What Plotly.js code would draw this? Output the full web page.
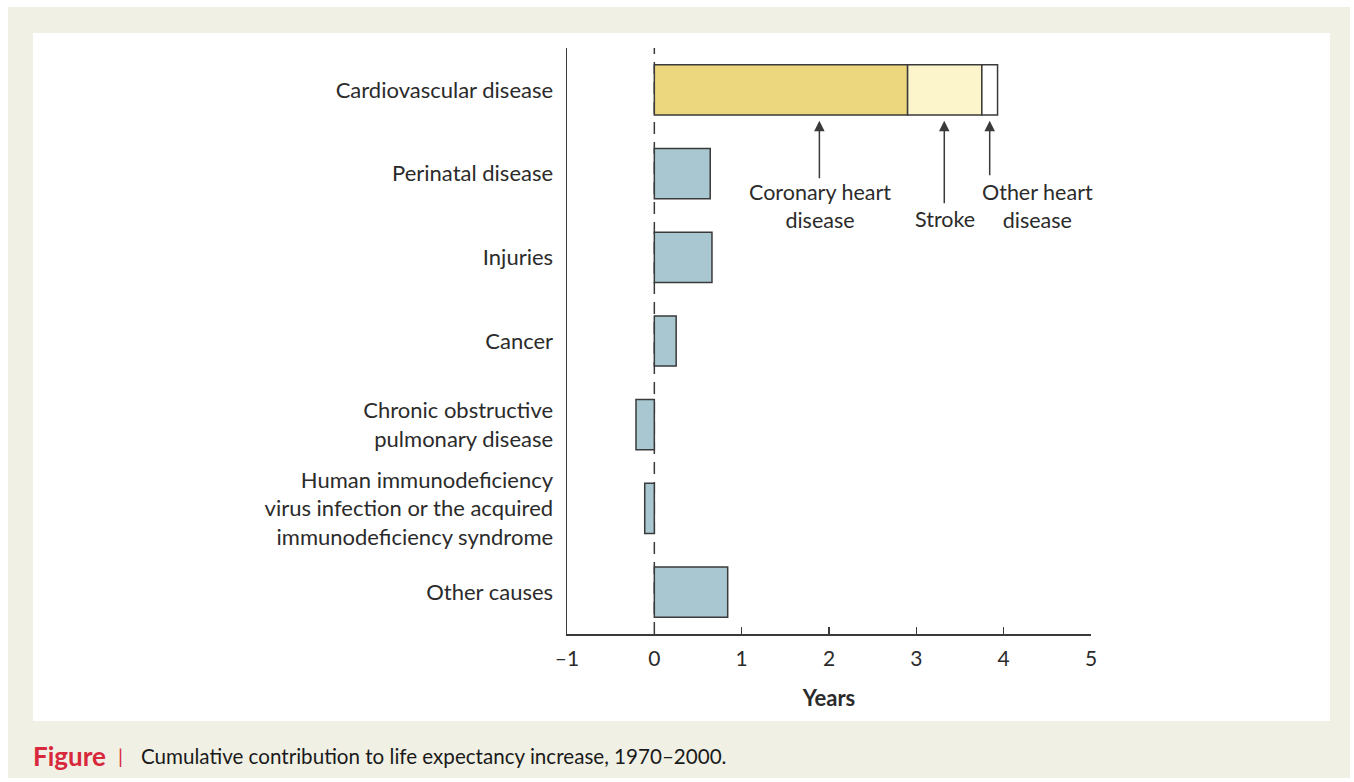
<!DOCTYPE html>
<html><head><meta charset="utf-8">
<script src="https://cdn.plot.ly/plotly-3.0.1.min.js"></script>
<style>html,body{margin:0;padding:0;background:#fff;}#chart{width:1354px;height:782px;}</style>
</head><body><div id="chart"></div>
<script>
// ---- data ----
const categories = [
  "Cardiovascular disease",
  "Perinatal disease",
  "Injuries",
  "Cancer",
  "Chronic obstructive<br>pulmonary disease",
  "Human immunodeficiency<br>virus infection or the acquired<br>immunodeficiency syndrome",
  "Other causes"
];
const cardioCategory = ["Cardiovascular disease"];
const coronary = [2.90];
const stroke = [0.85];
const otherHeart = [0.18];
const otherCategories = categories.slice(1);
const otherValues = [0.64, 0.66, 0.25, -0.21, -0.11, 0.84];
const tickVals = [-1, 0, 1, 2, 3, 4, 5];
const tickText = ["\u20131", "0", "1", "2", "3", "4", "5"];
const xTitle = "Years";
const caption = "Cumulative contribution to life expectancy increase, 1970\u20132000.";

// ---- layout helpers ----
const L = 567, R = 1091, T = 48, B = 634, W = 1354, H = 782;
const px = p => (p - L) / (R - L);
const py = q => (B - q) / (B - T);
const FONT = "Lato, 'Open Sans', sans-serif";
const TXT = "#2b2b2b";
const EDGE = "#3a3a3a";

const barLine = {color: EDGE, width: 1.5};
const traces = [
  {type: "bar", orientation: "h", y: cardioCategory, x: coronary, width: 0.6,
   marker: {color: "#ecd67e", line: barLine}, name: "Coronary heart disease"},
  {type: "bar", orientation: "h", y: cardioCategory, x: stroke, width: 0.6,
   marker: {color: "#fcf5cc", line: barLine}, name: "Stroke"},
  {type: "bar", orientation: "h", y: cardioCategory, x: otherHeart, width: 0.6,
   marker: {color: "#ffffff", line: barLine}, name: "Other heart disease"},
  {type: "bar", orientation: "h", y: otherCategories, x: otherValues, width: 0.6,
   marker: {color: "#a9c7d1", line: barLine}, name: "Other"}
];

const arrowCommon = {xref: "x", yref: "y", text: "", showarrow: true, arrowhead: 2,
  arrowsize: 1.4, arrowwidth: 1.5, arrowcolor: EDGE, ax: 0, standoff: 0, startstandoff: 0};
const annFont = {family: FONT, size: 21.5, color: TXT};

const layout = {
  width: W, height: H,
  margin: {l: L, r: W - R, t: T, b: H - B},
  paper_bgcolor: "#ffffff",
  plot_bgcolor: "#ffffff",
  barmode: "relative",
  bargap: 0.4,
  showlegend: false,
  font: {family: FONT, color: TXT},
  xaxis: {
    range: [-1, 5], tickvals: tickVals, ticktext: tickText,
    showgrid: false, zeroline: false, showline: true, linecolor: EDGE, linewidth: 1.5,
    ticks: "inside", ticklen: 7, tickwidth: 1.5, tickcolor: EDGE, ticklabelstandoff: 5,
    tickfont: {family: FONT, size: 21, color: TXT},
    title: {text: "<b>" + xTitle + "</b>", font: {family: FONT, size: 22, color: TXT}, standoff: 22},
    fixedrange: true
  },
  yaxis: {
    type: "category", categoryorder: "array", categoryarray: categories,
    range: [6.5, -0.5], showgrid: false, zeroline: false,
    showline: true, linecolor: EDGE, linewidth: 1.5, ticks: "", ticklabelstandoff: 8,
    tickfont: {family: FONT, size: 22, color: TXT}, fixedrange: true
  },
  shapes: [
    {type: "rect", xref: "paper", yref: "paper", x0: px(8), x1: px(1350), y0: py(778), y1: py(7),
     fillcolor: "#f0f0e5", line: {width: 0}, layer: "below"},
    {type: "rect", xref: "paper", yref: "paper", x0: px(33), x1: px(1330), y0: py(721), y1: py(33),
     fillcolor: "#ffffff", line: {width: 0}, layer: "below"},
    {type: "line", xref: "x", yref: "paper", x0: 0, x1: 0, y0: 0, y1: 1,
     line: {color: EDGE, width: 1.5, dash: "12px,8px"}, layer: "below"}
  ],
  annotations: [
    Object.assign({}, arrowCommon, {x: 1.89, y: 0.37, ay: 59}),
    Object.assign({}, arrowCommon, {x: 3.32, y: 0.37, ay: 84}),
    Object.assign({}, arrowCommon, {x: 3.84, y: 0.37, ay: 56}),
    {xref: "paper", yref: "paper", x: px(820), y: py(206), text: "Coronary heart<br>disease",
     showarrow: false, font: annFont, xanchor: "center", yanchor: "middle"},
    {xref: "paper", yref: "paper", x: px(945), y: py(219), text: "Stroke",
     showarrow: false, font: annFont, xanchor: "center", yanchor: "middle"},
    {xref: "paper", yref: "paper", x: px(1037), y: py(206), text: "Other heart<br>disease",
     showarrow: false, font: annFont, xanchor: "center", yanchor: "middle"},
    {xref: "paper", yref: "paper", x: px(31), y: py(756), text: "<b>Figure</b>",
     showarrow: false, font: {family: FONT, size: 26, color: "#d8283c"}, xanchor: "left", yanchor: "middle"},
    {xref: "paper", yref: "paper", x: px(120), y: py(756), text: "|",
     showarrow: false, font: {family: FONT, size: 20, color: "#d8283c"}, xanchor: "center", yanchor: "middle"},
    {xref: "paper", yref: "paper", x: px(139), y: py(756), text: caption,
     showarrow: false, font: {family: FONT, size: 20.6, color: "#1a1a1a"}, xanchor: "left", yanchor: "middle"}
  ]
};

Plotly.newPlot("chart", traces, layout, {displayModeBar: false, staticPlot: true});
</script>
</body></html>
